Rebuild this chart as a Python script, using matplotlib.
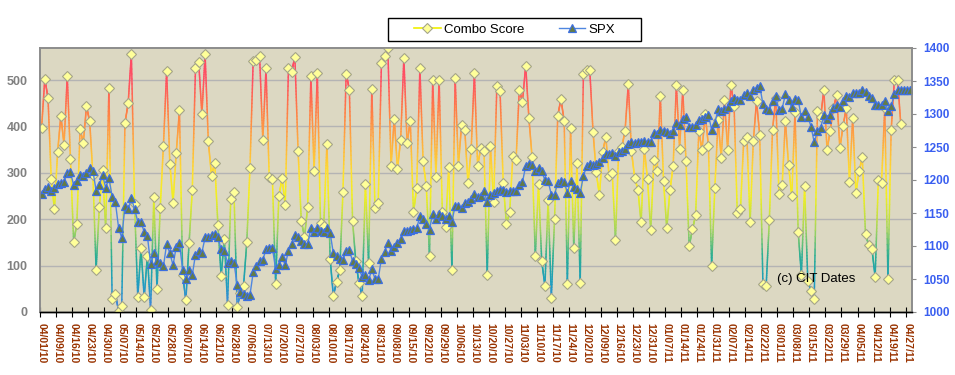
import numpy as np
import pandas as pd
import matplotlib
matplotlib.use('Agg')
import matplotlib.pyplot as plt
from matplotlib.collections import LineCollection
from matplotlib.colors import LinearSegmentedColormap, Normalize
from matplotlib.lines import Line2D
from matplotlib.patches import Rectangle

plt.rcParams['font.family'] = ['Liberation Sans', 'DejaVu Sans']

# trading days 04/01/10 .. 04/28/11 (NYSE holidays removed)
holidays = ['2010-04-02', '2010-05-31', '2010-07-05', '2010-09-06', '2010-11-25',
            '2010-12-24', '2011-01-17', '2011-02-21', '2011-04-22']
dates = pd.bdate_range('2010-04-01', '2011-04-28')
dates = dates[~dates.isin(pd.to_datetime(holidays))]

combo = [397, 503, 461, 287, 221, 345, 423, 361, 508, 330, 151, 190, 394, 364, 443, 411, 295, 91, 226, 305,
         180, 483, 28, 39, 3, 14, 407, 450, 556, 233, 32, 138, 32, 121, 5, 247, 49, 225, 358, 519,
         320, 236, 343, 435, 80, 25, 149, 262, 525, 539, 426, 555, 368, 293, 322, 187, 78, 157, 16, 244,
         259, 11, 40, 57, 150, 311, 542, 544, 551, 371, 525, 290, 287, 60, 249, 288, 231, 526, 517, 550,
         348, 197, 162, 226, 509, 303, 516, 192, 185, 363, 115, 35, 65, 90, 259, 514, 479, 196, 109, 62,
         35, 276, 106, 481, 224, 235, 537, 552, 568, 315, 417, 308, 371, 548, 364, 412, 215, 267, 526, 325,
         271, 121, 501, 291, 501, 215, 183, 313, 91, 504, 315, 403, 393, 277, 351, 515, 315, 353, 348, 80,
         357, 237, 487, 476, 277, 189, 215, 337, 328, 479, 453, 531, 418, 333, 121, 276, 109, 57, 242, 31,
         200, 423, 459, 412, 60, 396, 137, 322, 62, 514, 522, 521, 389, 301, 252, 345, 377, 294, 300, 156,
         348, 355, 391, 491, 346, 289, 264, 193, 351, 287, 176, 328, 303, 466, 282, 180, 262, 315, 489, 352,
         478, 326, 142, 178, 208, 390, 349, 427, 358, 100, 267, 413, 332, 458, 349, 489, 445, 213, 223, 368,
         377, 194, 368, 454, 382, 61, 55, 198, 393, 461, 255, 273, 411, 317, 249, 432, 172, 80, 271, 67,
         45, 27, 434, 420, 478, 350, 391, 440, 468, 353, 401, 440, 280, 418, 257, 304, 333, 168, 144, 136,
         76, 285, 278, 440, 72, 392, 499, 501, 405]

spx = [1179, 1187, 1190, 1183, 1188, 1194, 1196, 1197, 1211, 1212, 1192, 1199, 1207, 1206, 1210, 1218, 1214, 1184, 1192, 1208,
       1188, 1203, 1175, 1167, 1128, 1112, 1161, 1156, 1172, 1156, 1137, 1137, 1121, 1115, 1073, 1089, 1077, 1075, 1069, 1103,
       1089, 1071, 1099, 1104, 1064, 1050, 1064, 1056, 1087, 1092, 1090, 1113, 1114, 1117, 1118, 1113, 1095, 1093, 1074, 1078,
       1075, 1041, 1031, 1028, 1024, 1026, 1060, 1069, 1077, 1079, 1095, 1097, 1097, 1065, 1071, 1083, 1071, 1093, 1103, 1116,
       1114, 1107, 1103, 1103, 1127, 1121, 1127, 1123, 1121, 1127, 1120, 1089, 1085, 1080, 1079, 1093, 1094, 1077, 1072, 1066,
       1053, 1056, 1048, 1065, 1050, 1050, 1081, 1091, 1105, 1093, 1098, 1105, 1111, 1123, 1122, 1125, 1126, 1127, 1145, 1141,
       1134, 1125, 1149, 1141, 1149, 1146, 1141, 1146, 1137, 1161, 1160, 1157, 1165, 1166, 1171, 1179, 1174, 1176, 1184, 1166,
       1178, 1180, 1183, 1185, 1185, 1182, 1183, 1183, 1184, 1193, 1197, 1221, 1225, 1223, 1213, 1218, 1213, 1200, 1198, 1178,
       1178, 1196, 1199, 1197, 1181, 1198, 1189, 1187, 1180, 1206, 1221, 1224, 1223, 1224, 1228, 1233, 1240, 1240, 1241, 1236,
       1243, 1244, 1247, 1255, 1258, 1256, 1258, 1258, 1259, 1257, 1258, 1271, 1270, 1276, 1274, 1272, 1270, 1275, 1286, 1283,
       1293, 1295, 1281, 1280, 1283, 1291, 1292, 1296, 1299, 1276, 1286, 1307, 1304, 1307, 1310, 1319, 1324, 1321, 1321, 1329,
       1332, 1328, 1336, 1340, 1343, 1315, 1307, 1306, 1319, 1327, 1306, 1308, 1330, 1321, 1310, 1322, 1321, 1295, 1304, 1296,
       1281, 1257, 1274, 1279, 1298, 1293, 1298, 1309, 1314, 1310, 1319, 1328, 1326, 1332, 1332, 1332, 1336, 1333, 1328, 1325,
       1314, 1314, 1314, 1320, 1305, 1312, 1330, 1337, 1337, 1337, 1337, 1337]

n = len(dates)
xc = np.arange(len(combo))
xs = np.arange(len(spx))

fig = plt.figure(figsize=(9.55, 3.75), dpi=100)
ax = fig.add_axes([40/955, 1-312/375, 872/955, 264/375])
ax.set_facecolor('#dcd8c2')
ax.set_xlim(-0.5, n-0.5)
ax.set_ylim(0, 569)
ax.set_axisbelow(True)
ax.yaxis.grid(True, color='#b4b4b4', lw=1)

# combo score: line coloured by height (blue low -> yellow mid -> red high)
cmap = LinearSegmentedColormap.from_list('combo', [
    (0/569, '#4a82e0'), (60/569, '#1e9dc0'), (120/569, '#2aae94'), (180/569, '#a8d65a'),
    (250/569, '#f2f020'), (300/569, '#ffe030'), (370/569, '#ffaa40'), (440/569, '#ff7a48'),
    (500/569, '#ff5062'), (1.0, '#ff4866')])
norm = Normalize(0, 569)
segs, cols = [], []
for k in range(len(combo)-1):
    t = np.linspace(0, 1, 31)
    px = xc[k] + t
    py = combo[k] + (combo[k+1]-combo[k])*t
    for j in range(len(t)-1):
        segs.append([(px[j], py[j]), (px[j+1], py[j+1])])
        cols.append(cmap(norm((py[j]+py[j+1])/2)))
ax.add_collection(LineCollection(segs, colors=cols, linewidths=1.1, capstyle='round', zorder=2))
ax.plot(xc, combo, ls='none', marker='D', ms=5.5, mfc='#ffff99', mec='#a5a58a', mew=0.8, zorder=3)

ax2 = ax.twinx()
ax2.set_ylim(1000, 1400)
ax2.plot(xs, spx, color='#4f86e0', lw=1.0, marker='^', ms=5.5, mfc='#657c45', mec='#3c6fe0', mew=0.9)

# axes styling
for a in (ax, ax2):
    for s in a.spines.values():
        s.set_color('#8c8c8c'); s.set_linewidth(1.2)
    a.spines['bottom'].set_color('black'); a.spines['bottom'].set_linewidth(1)

ax.set_yticks(range(0, 501, 100))
ax.tick_params(axis='y', length=0, pad=9, labelsize=9, labelcolor='#808080')
for lab in ax.get_yticklabels(): lab.set_fontweight('bold')
ax2.set_yticks(range(1000, 1401, 50))
ax2.tick_params(axis='y', length=3, color='#8c8c8c', pad=5, labelsize=8.5, labelcolor='#3a5ff0')
for lab in ax2.get_yticklabels(): lab.set_fontweight('bold')

pos = np.arange(0, n, 5)
ax.set_xticks(pos-0.5)
ax.set_xticklabels([])
ax.tick_params(axis='x', which='major', length=7, direction='inout', color='black')
ax.set_xticks(pos, minor=True)
ax.set_xticklabels([d.strftime('%m/%d/%y') for d in dates[pos]], minor=True,
                   rotation=-90, fontsize=7.5, fontweight='bold', color='#993300')
ax.tick_params(axis='x', which='minor', length=0, pad=8)
ax2.tick_params(axis='x', which='both', length=0)

ax2.text(0.845, 0.125, '(c) CIT Dates', transform=ax2.transAxes, fontsize=9.5,
         va='center', ha='left', zorder=10)

# legend box above the plot
fig.patches.append(Rectangle((388/955, 1-41/375), 253/955, 23/375, transform=fig.transFigure,
                             facecolor='white', edgecolor='black', lw=1))
handles = [Line2D([], [], color='#f0f000', lw=1.2, marker='D', ms=5.5, mfc='#ffff99', mec='#a5a58a', mew=0.8),
           Line2D([], [], color='#4f86e0', lw=1.0, marker='^', ms=5.5, mfc='#657c45', mec='#3c6fe0', mew=0.9)]
fig.legend(handles, ['Combo Score', 'SPX'], loc='center', bbox_to_anchor=(514.5/955, 1-29.7/375),
           ncol=2, frameon=False, fontsize=9.5, handlelength=2.0, handletextpad=0.25, columnspacing=2.6)

fig.savefig('out.png', dpi=100)
